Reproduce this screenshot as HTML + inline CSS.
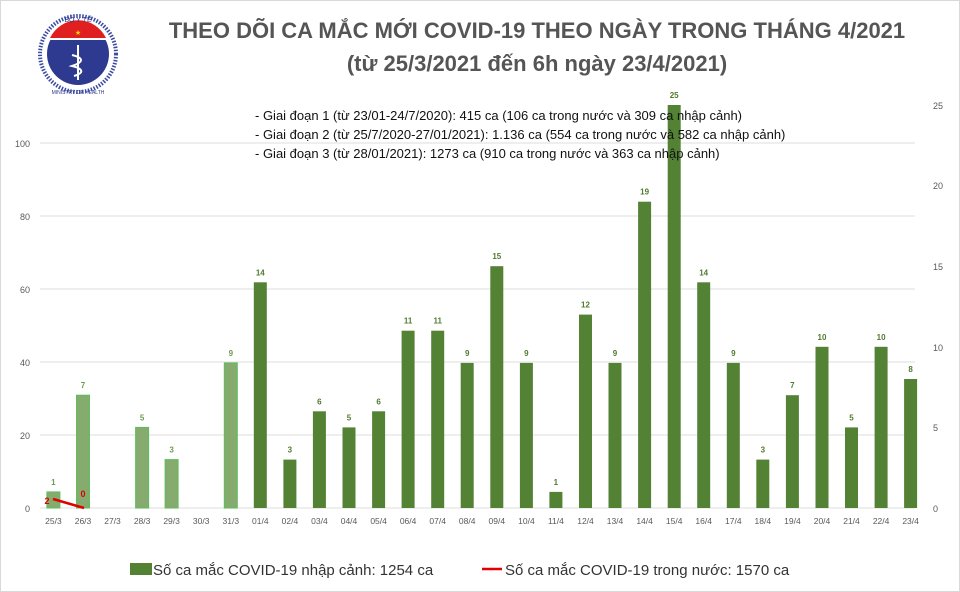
<!DOCTYPE html>
<html><head><meta charset="utf-8"><style>
body{margin:0;background:#fff}
svg{display:block;font-family:"Liberation Sans","DejaVu Sans",sans-serif}
</style></head><body>
<svg width="960" height="592" viewBox="0 0 960 592" xmlns="http://www.w3.org/2000/svg">
<rect x="0.5" y="0.5" width="959" height="591" fill="#fff" stroke="#d9d9d9"/>
<g>
<circle cx="78" cy="54" r="38" fill="none" stroke="#3a4aa0" stroke-width="4" stroke-dasharray="1.5 1.5"/>
<circle cx="78" cy="54" r="31" fill="#2e3a8f"/>
<path d="M50,38 A31,31 0 0 1 106,38 Z" fill="#e02020"/>
<rect x="50" y="38" width="56" height="2" fill="#fff"/>
<text x="78" y="35" font-size="7" fill="#ffd700" text-anchor="middle">★</text>
<path d="M78,45 L78,80 M72,55 C84,58 84,62 72,66 C84,69 84,73 74,76" stroke="#fff" stroke-width="2" fill="none"/>
<text x="78" y="22" font-size="7" fill="#2e3a8f" text-anchor="middle">BỘ Y TẾ</text>
<text x="78" y="94" font-size="5" fill="#2e3a8f" text-anchor="middle">MINISTRY OF HEALTH</text>
</g>
<text x="537" y="38" font-size="22" font-weight="bold" fill="#555" text-anchor="middle">THEO DÕI CA MẮC MỚI COVID-19 THEO NGÀY TRONG THÁNG 4/2021</text>
<text x="537" y="71" font-size="22" font-weight="bold" fill="#555" text-anchor="middle">(từ 25/3/2021 đến 6h ngày 23/4/2021)</text>
<g stroke="#e3e3e3" stroke-width="1.2">
<line x1="40" x2="915" y1="143" y2="143"/><line x1="40" x2="915" y1="216" y2="216"/>
<line x1="40" x2="915" y1="289" y2="289"/><line x1="40" x2="915" y1="362" y2="362"/>
<line x1="40" x2="915" y1="435" y2="435"/><line x1="40" x2="915" y1="508" y2="508"/>
</g>
<g font-size="9" fill="#595959" text-anchor="end">
<text x="30" y="147">100</text><text x="30" y="220">80</text><text x="30" y="293">60</text>
<text x="30" y="366">40</text><text x="30" y="439">20</text><text x="30" y="512">0</text>
</g>
<g font-size="9" fill="#595959" text-anchor="start">
<text x="933" y="109">25</text><text x="933" y="189">20</text><text x="933" y="270">15</text>
<text x="933" y="351">10</text><text x="933" y="431">5</text><text x="933" y="512">0</text>
</g>
<!-- light bars -->
<g fill="#86ab6f" stroke="#5cbf5c" stroke-width="1">
<rect x="46.9" y="491.9" width="13" height="16.1"/>
<rect x="76.5" y="395.2" width="13" height="112.8"/>
<rect x="135.6" y="427.4" width="13" height="80.6"/>
<rect x="165.1" y="459.6" width="13" height="48.4"/>
<rect x="224.3" y="362.9" width="13" height="145.1"/>
</g>
<g fill="#548235">
<rect x="253.8" y="282.3" width="13" height="225.7"/>
<rect x="283.4" y="459.6" width="13" height="48.4"/>
<rect x="312.9" y="411.3" width="13" height="96.7"/>
<rect x="342.5" y="427.4" width="13" height="80.6"/>
<rect x="372.1" y="411.3" width="13" height="96.7"/>
<rect x="401.6" y="330.7" width="13" height="177.3"/>
<rect x="431.2" y="330.7" width="13" height="177.3"/>
<rect x="460.7" y="362.9" width="13" height="145.1"/>
<rect x="490.3" y="266.2" width="13" height="241.8"/>
<rect x="519.9" y="362.9" width="13" height="145.1"/>
<rect x="549.4" y="491.9" width="13" height="16.1"/>
<rect x="579.0" y="314.6" width="13" height="193.4"/>
<rect x="608.5" y="362.9" width="13" height="145.1"/>
<rect x="638.1" y="201.7" width="13" height="306.3"/>
<rect x="667.7" y="105" width="13" height="403"/>
<rect x="697.2" y="282.3" width="13" height="225.7"/>
<rect x="726.8" y="362.9" width="13" height="145.1"/>
<rect x="756.3" y="459.6" width="13" height="48.4"/>
<rect x="785.9" y="395.2" width="13" height="112.8"/>
<rect x="815.5" y="346.8" width="13" height="161.2"/>
<rect x="845.0" y="427.4" width="13" height="80.6"/>
<rect x="874.6" y="346.8" width="13" height="161.2"/>
<rect x="904.1" y="379" width="13" height="129"/>
</g>
<g font-size="8" font-weight="bold" fill="#6f9a55" text-anchor="middle">
<text x="53.4" y="484.9">1</text><text x="83" y="388.2">7</text><text x="142.1" y="420.4">5</text>
<text x="171.6" y="452.6">3</text><text x="230.8" y="355.9">9</text>
</g>
<g font-size="8" font-weight="bold" fill="#4f7a2f" text-anchor="middle">
<text x="260.3" y="275.3">14</text><text x="289.9" y="452.6">3</text><text x="319.4" y="404.3">6</text>
<text x="349" y="420.4">5</text><text x="378.6" y="404.3">6</text><text x="408.1" y="323.7">11</text>
<text x="437.7" y="323.7">11</text><text x="467.2" y="355.9">9</text><text x="496.8" y="259.2">15</text>
<text x="526.4" y="355.9">9</text><text x="555.9" y="484.9">1</text><text x="585.5" y="307.6">12</text>
<text x="615" y="355.9">9</text><text x="644.6" y="194.7">19</text><text x="674.2" y="98">25</text>
<text x="703.7" y="275.3">14</text><text x="733.3" y="355.9">9</text><text x="762.8" y="452.6">3</text>
<text x="792.4" y="388.2">7</text><text x="822" y="339.8">10</text><text x="851.5" y="420.4">5</text>
<text x="881.1" y="339.8">10</text><text x="910.6" y="372">8</text>
</g>
<g font-size="8.5" fill="#595959" text-anchor="middle">
<text x="53.4" y="524">25/3</text><text x="83" y="524">26/3</text><text x="112.5" y="524">27/3</text>
<text x="142.1" y="524">28/3</text><text x="171.6" y="524">29/3</text><text x="201.2" y="524">30/3</text>
<text x="230.8" y="524">31/3</text><text x="260.3" y="524">01/4</text><text x="289.9" y="524">02/4</text>
<text x="319.4" y="524">03/4</text><text x="349" y="524">04/4</text><text x="378.6" y="524">05/4</text>
<text x="408.1" y="524">06/4</text><text x="437.7" y="524">07/4</text><text x="467.2" y="524">08/4</text>
<text x="496.8" y="524">09/4</text><text x="526.4" y="524">10/4</text><text x="555.9" y="524">11/4</text>
<text x="585.5" y="524">12/4</text><text x="615" y="524">13/4</text><text x="644.6" y="524">14/4</text>
<text x="674.2" y="524">15/4</text><text x="703.7" y="524">16/4</text><text x="733.3" y="524">17/4</text>
<text x="762.8" y="524">18/4</text><text x="792.4" y="524">19/4</text><text x="822" y="524">20/4</text>
<text x="851.5" y="524">21/4</text><text x="881.1" y="524">22/4</text><text x="910.6" y="524">23/4</text>
</g>
<g font-size="13" fill="#111">
<text x="255" y="120">- Giai đoạn 1 (từ 23/01-24/7/2020): 415 ca (106 ca trong nước và 309 ca nhập cảnh)</text>
<text x="255" y="139">- Giai đoạn 2 (từ 25/7/2020-27/01/2021): 1.136 ca (554 ca trong nước và 582 ca nhập cảnh)</text>
<text x="255" y="158">- Giai đoạn 3 (từ 28/01/2021): 1273 ca (910 ca trong nước và 363 ca nhập cảnh)</text>
</g>
<line x1="53" y1="499" x2="84" y2="508" stroke="#e00000" stroke-width="2.5"/>
<text x="47" y="504" font-size="9" font-weight="bold" fill="#e00000" text-anchor="middle">2</text>
<text x="83" y="497" font-size="9" font-weight="bold" fill="#e00000" text-anchor="middle">0</text>
<rect x="130" y="563" width="22" height="12" fill="#548235"/>
<text x="153" y="575" font-size="15" fill="#333">Số ca mắc COVID-19 nhập cảnh: 1254 ca</text>
<line x1="482" y1="569" x2="502" y2="569" stroke="#e00000" stroke-width="2.5"/>
<text x="505" y="575" font-size="15" fill="#333">Số ca mắc COVID-19 trong nước: 1570 ca</text>
</svg>
</body></html>
